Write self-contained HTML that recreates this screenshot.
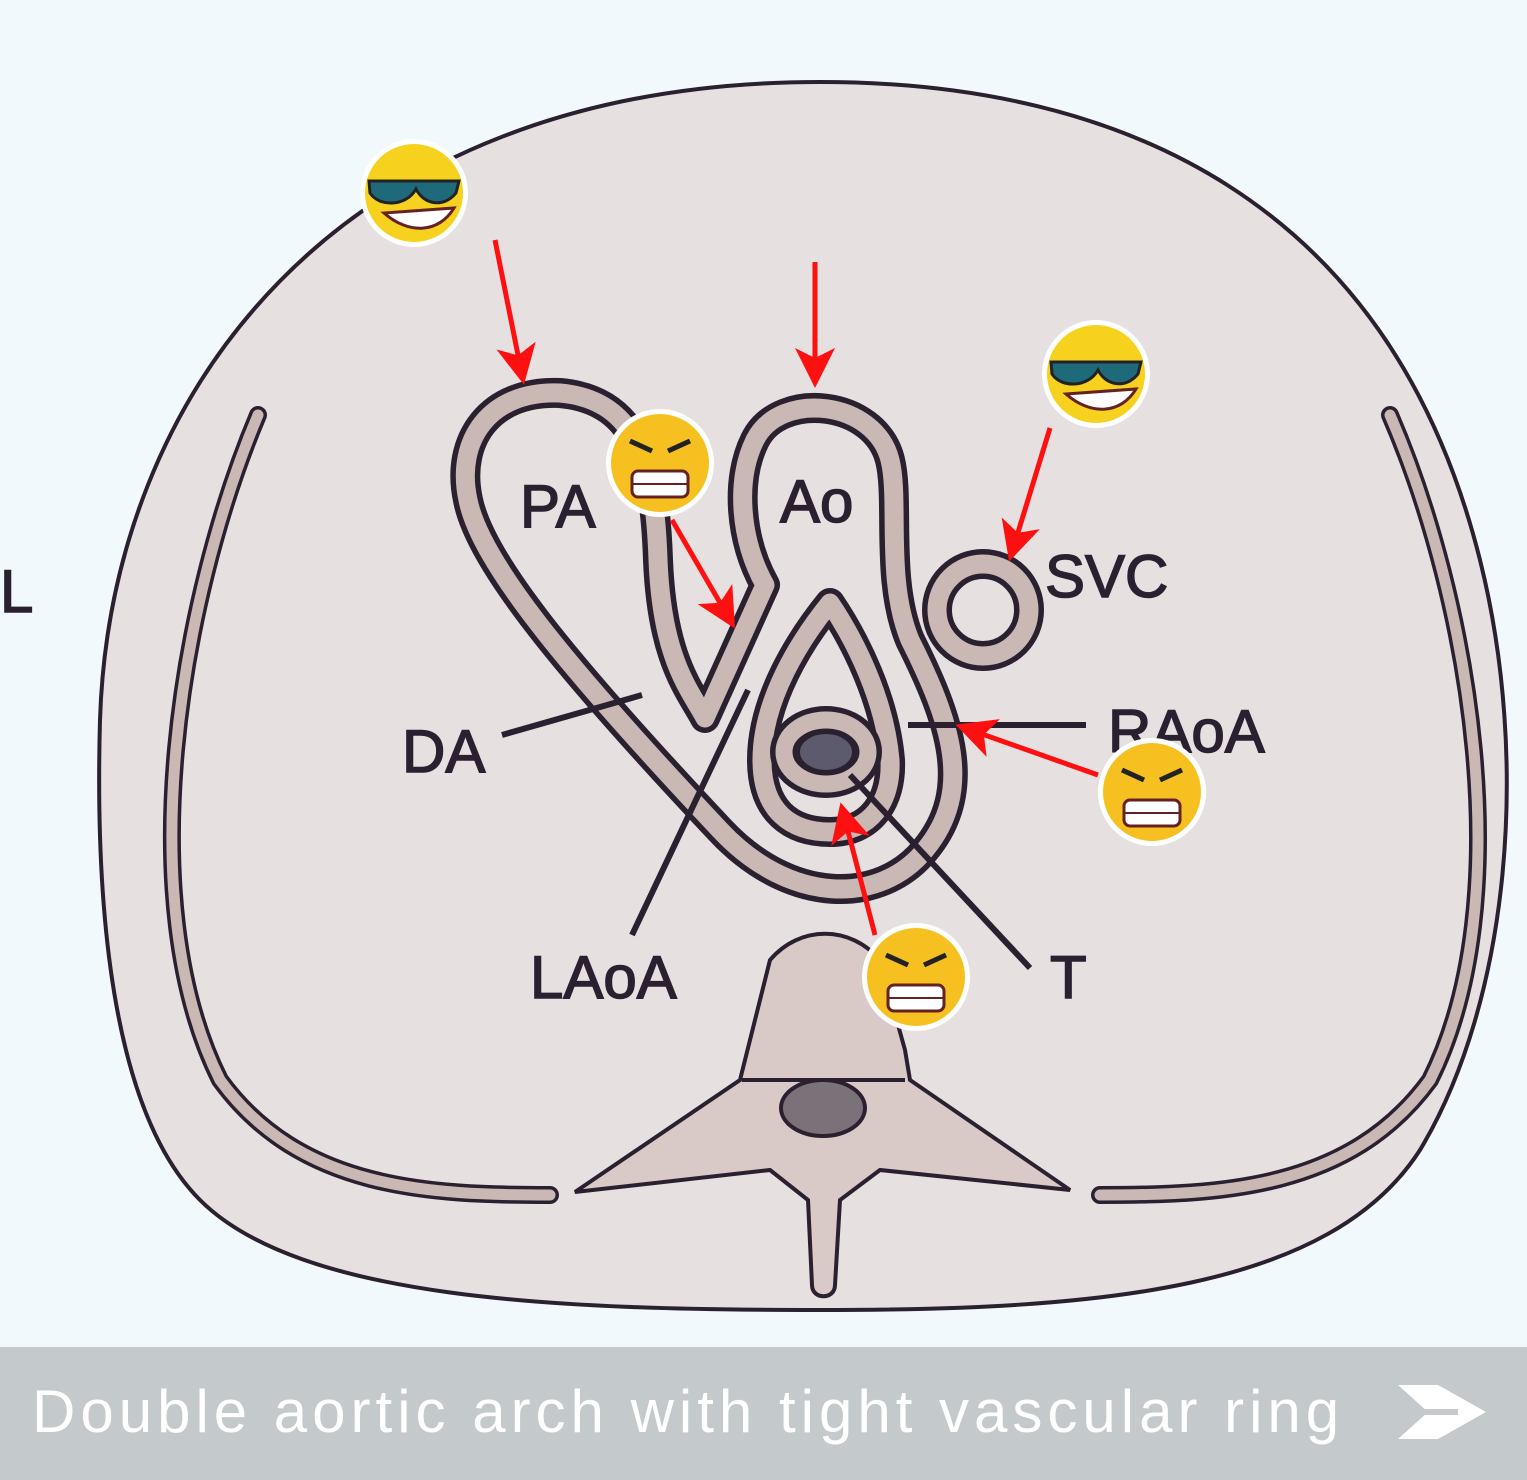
<!DOCTYPE html>
<html><head><style>
html,body{margin:0;padding:0;width:1527px;height:1480px;overflow:hidden;background:#f2f9fc;}
svg{position:absolute;left:0;top:0}
.bar{position:absolute;left:0;top:1347px;width:1527px;height:133px;background:#c4c9cb;}
.bar span{position:absolute;left:32px;top:30px;font:300 60px "Liberation Sans",sans-serif;color:#fff;letter-spacing:5px}
</style></head><body>
<svg width="1527" height="1480" viewBox="0 0 1527 1480">
<defs>
<marker id="ah" markerWidth="8" markerHeight="8" refX="6" refY="4" orient="auto" markerUnits="strokeWidth"><path d="M0,0 L8,4 L0,8 L2,4 Z" fill="#ff1010"/></marker>
</defs>
<path d="M820,82 C1120,82 1390,200 1480,560 C1530,760 1510,1000 1420,1150 C1330,1290 1100,1310 820,1310 C560,1310 300,1300 200,1200 C110,1110 95,900 100,720 C110,400 330,82 820,82 Z" fill="#e6e0e0" stroke="#2a2030" stroke-width="4"/>
<g fill="none" stroke-linecap="round">
<path d="M258,415 C180,600 130,900 220,1080 C300,1190 430,1195 550,1195" stroke="#2a2030" stroke-width="18"/>
<path d="M258,415 C180,600 130,900 220,1080 C300,1190 430,1195 550,1195" stroke="#c9b8b4" stroke-width="11"/>
<path d="M1390,415 C1470,600 1520,900 1430,1080 C1350,1190 1220,1195 1100,1195" stroke="#2a2030" stroke-width="18"/>
<path d="M1390,415 C1470,600 1520,900 1430,1080 C1350,1190 1220,1195 1100,1195" stroke="#c9b8b4" stroke-width="11"/>
</g>
<path d="M770,960 C800,925 850,925 880,960 L905,1050 L910,1080 L1070,1190 L880,1170 L840,1200 L835,1285 C835,1300 812,1300 812,1285 L808,1200 L770,1170 L575,1192 L740,1080 Z" fill="#d9cac8" stroke="#2a2030" stroke-width="4"/>
<path d="M742,1080 L905,1080" stroke="#2a2030" stroke-width="4"/>
<ellipse cx="823" cy="1108" rx="42" ry="28" fill="#7a7278" stroke="#2a2030" stroke-width="4"/>
<g fill="none" stroke-linejoin="round">
<path d="M705,718 C690,690 662,660 658,560 C655,470 640,400 560,393 C490,390 455,440 468,500 C480,560 560,660 720,830 C790,905 880,905 925,850 C975,790 950,720 910,640 C885,580 900,500 890,460 C875,400 780,390 755,440 C735,480 740,540 765,585 L705,718 Z" stroke="#2a2030" stroke-width="30"/>
<path d="M705,718 C690,690 662,660 658,560 C655,470 640,400 560,393 C490,390 455,440 468,500 C480,560 560,660 720,830 C790,905 880,905 925,850 C975,790 950,720 910,640 C885,580 900,500 890,460 C875,400 780,390 755,440 C735,480 740,540 765,585 L705,718 Z" stroke="#c9b8b4" stroke-width="19"/>
<path d="M830,603 C800,640 762,700 762,760 C762,812 792,832 830,832 C870,832 892,802 890,760 C885,700 855,640 830,603 Z" stroke="#2a2030" stroke-width="30"/>
<path d="M830,603 C800,640 762,700 762,760 C762,812 792,832 830,832 C870,832 892,802 890,760 C885,700 855,640 830,603 Z" stroke="#c9b8b4" stroke-width="19"/>
<circle cx="983" cy="610" r="46" stroke="#2a2030" stroke-width="30"/>
<circle cx="983" cy="610" r="46" stroke="#c9b8b4" stroke-width="19"/>
<ellipse cx="826" cy="752" rx="42" ry="32" stroke="#2a2030" stroke-width="28"/>
<ellipse cx="826" cy="752" rx="42" ry="32" stroke="#c9b8b4" stroke-width="17"/>
</g>
<ellipse cx="826" cy="752" rx="28" ry="20" fill="#5c5a6c" stroke="#2a2030" stroke-width="4"/>
<g stroke="#2a2030" stroke-width="6">
<line x1="502" y1="735" x2="642" y2="695"/>
<line x1="632" y1="935" x2="748" y2="690"/>
<line x1="850" y1="775" x2="1030" y2="968"/>
<line x1="908" y1="725" x2="1086" y2="725"/>
</g>
<g font-family="Liberation Sans,sans-serif" font-size="60" fill="#2a2030" stroke="#2a2030" stroke-width="1.5">
<text x="520" y="527">PA</text>
<text x="780" y="522">Ao</text>
<text x="1045" y="597">SVC</text>
<text x="402" y="772">DA</text>
<text x="1108" y="752">RAoA</text>
<text x="530" y="998">LAoA</text>
<text x="1050" y="998">T</text>
<text x="0" y="612">L</text>
</g>
<g stroke="#ff1010" stroke-width="5" fill="none" marker-end="url(#ah)">
<line x1="495" y1="240" x2="522" y2="375"/>
<line x1="815" y1="262" x2="815" y2="378"/>
<line x1="1050" y1="428" x2="1012" y2="552"/>
<line x1="672" y1="520" x2="730" y2="620"/>
<line x1="1098" y1="775" x2="965" y2="728"/>
<line x1="875" y1="935" x2="843" y2="812"/>
</g>
<g>
<g transform="translate(414,193)"><circle r="54" fill="#fff"/><circle r="49" fill="#f6d21e"/><path d="M-45,-12 L45,-12 L42,0 C30,15 10,12 2,-4 C-8,14 -35,14 -44,0Z" fill="#1e6a7a" stroke="#222" stroke-width="3"/><path d="M-30,20 C-5,42 25,40 40,15 Z" fill="#fff" stroke="#622" stroke-width="3"/></g>
<g transform="translate(1096,374)"><circle r="54" fill="#fff"/><circle r="49" fill="#f6d21e"/><path d="M-45,-12 L45,-12 L42,0 C30,15 10,12 2,-4 C-8,14 -35,14 -44,0Z" fill="#1e6a7a" stroke="#222" stroke-width="3"/><path d="M-30,20 C-5,42 25,40 40,15 Z" fill="#fff" stroke="#622" stroke-width="3"/></g>
<g transform="translate(660,463)"><circle r="54" fill="#fff"/><circle r="49" fill="#f6c020"/><path d="M-30,-22 L-8,-12 M30,-22 L8,-12" stroke="#222" stroke-width="5"/><rect x="-28" y="8" width="56" height="26" rx="6" fill="#fff" stroke="#622" stroke-width="3"/><line x1="-28" y1="21" x2="28" y2="21" stroke="#622" stroke-width="2"/></g>
<g transform="translate(1152,792)"><circle r="54" fill="#fff"/><circle r="49" fill="#f6c020"/><path d="M-30,-22 L-8,-12 M30,-22 L8,-12" stroke="#222" stroke-width="5"/><rect x="-28" y="8" width="56" height="26" rx="6" fill="#fff" stroke="#622" stroke-width="3"/><line x1="-28" y1="21" x2="28" y2="21" stroke="#622" stroke-width="2"/></g>
<g transform="translate(916,977)"><circle r="54" fill="#fff"/><circle r="49" fill="#f6c020"/><path d="M-30,-22 L-8,-12 M30,-22 L8,-12" stroke="#222" stroke-width="5"/><rect x="-28" y="8" width="56" height="26" rx="6" fill="#fff" stroke="#622" stroke-width="3"/><line x1="-28" y1="21" x2="28" y2="21" stroke="#622" stroke-width="2"/></g>
</g>
</svg>
<div class="bar"><span>Double aortic arch with tight vascular ring</span>
<svg style="left:1398px;top:38px" width="90" height="60"><path d="M0,0 L40,0 L88,27 L40,54 L0,54 L30,27 Z" fill="#fff"/><path d="M10,27 L60,27" stroke="#c4c9cb" stroke-width="6"/></svg></div>
</body></html>
